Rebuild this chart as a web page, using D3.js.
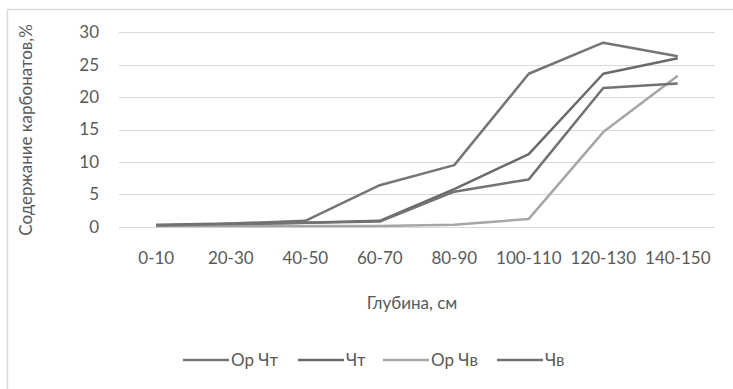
<!DOCTYPE html>
<html>
<head>
<meta charset="utf-8">
<script src="https://cdn.jsdelivr.net/npm/d3@7"></script>
<style>
    body { margin: 0; background: #fff; }
    svg text { font-family: Lato, "Open Sans", sans-serif; fill: #595959; }
</style>
</head>
<body>
<div id="root"></div>
<script>
const depths = ["0-10", "20-30", "40-50", "60-70", "80-90", "100-110", "120-130", "140-150"];
const seriesNames = ["Ор Чт", "Чт", "Ор Чв", "Чв"];
const orCht = [0.3, 0.5, 0.9, 6.4, 9.5, 23.6, 28.4, 26.3];
const cht = [0.2, 0.4, 0.6, 0.9, 5.8, 11.2, 23.6, 26.0];
const orChv = [0.1, 0.1, 0.1, 0.1, 0.3, 1.2, 14.6, 23.3];
const chv = [0.2, 0.4, 0.6, 0.8, 5.4, 7.3, 21.4, 22.1];
const yTicks = [0, 5, 10, 15, 20, 25, 30];
const colors = ["#757575", "#6a6a6a", "#a6a6a6", "#727272"];

const w = 733;
const h = 389;
const plotLeft = 119, plotRight = 715, plotTop = 32.3, plotBottom = 226.7;

const svg = d3.select("#root")
    .append("svg")
    .attr("width", w)
    .attr("height", h);

// chart border (cropped)
svg.append("path")
    .attr("d", `M7.5,${h} V9.5 H${w}`)
    .attr("fill", "none")
    .attr("stroke", "#d9d9d9")
    .attr("stroke-width", 1.5);

const xScale = d3.scaleBand()
    .domain(depths)
    .range([plotLeft, plotRight]);

const yScale = d3.scaleLinear()
    .domain([0, 30])
    .range([plotBottom, plotTop]);

// gridlines
svg.selectAll(".grid")
    .data(yTicks)
    .enter()
    .append("line")
    .attr("x1", plotLeft)
    .attr("x2", plotRight)
    .attr("y1", d => Math.round(yScale(d)) + 0.5)
    .attr("y2", d => Math.round(yScale(d)) + 0.5)
    .attr("stroke", "#d9d9d9")
    .attr("stroke-width", 1);

// y-axis
const yAxis = d3.axisLeft(yScale).tickValues(yTicks).tickSize(0).tickPadding(20);
const gy = svg.append("g")
    .attr("transform", "translate(" + plotLeft + ",0)")
    .call(yAxis);
gy.select(".domain").remove();
gy.selectAll("text").style("font-size", "17px").attr("fill", "#595959");

// x-axis
const xAxis = d3.axisBottom(xScale).tickSize(0).tickPadding(25);
const gx = svg.append("g")
    .attr("transform", "translate(0," + plotBottom + ")")
    .call(xAxis);
gx.select(".domain").remove();
gx.selectAll("text").style("font-size", "17px").attr("fill", "#595959");

// axis titles
svg.append("text")
    .attr("transform", "translate(32,130) rotate(-90)")
    .attr("text-anchor", "middle")
    .style("font-size", "17px")
    .text("Содержание карбонатов,%");

svg.append("text")
    .attr("x", 412)
    .attr("y", 309)
    .attr("text-anchor", "middle")
    .style("font-size", "17px")
    .text("Глубина, см");

// lines
const allSeries = [orCht, cht, orChv, chv];
const line = d3.line()
    .x((d, i) => xScale(depths[i]) + xScale.bandwidth() / 2)
    .y(d => yScale(d));

svg.selectAll(".series")
    .data(allSeries)
    .enter()
    .append("path")
    .attr("d", line)
    .attr("fill", "none")
    .attr("stroke", (d, i) => colors[i])
    .attr("stroke-width", 2.5)
    .attr("stroke-linejoin", "round");

// legend
const legendX = [183, 298, 383, 497];
const legend = svg.selectAll(".legend")
    .data(seriesNames)
    .enter()
    .append("g")
    .attr("transform", (d, i) => "translate(" + legendX[i] + ",360)");
legend.append("line")
    .attr("x1", 0)
    .attr("x2", 46)
    .attr("stroke", (d, i) => colors[i])
    .attr("stroke-width", 2.5);
legend.append("text")
    .attr("x", 48)
    .attr("y", 6)
    .style("font-size", "17px")
    .text(d => d);
</script>
</body>
</html>
